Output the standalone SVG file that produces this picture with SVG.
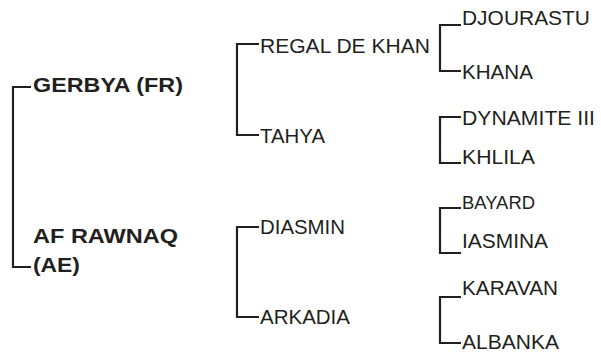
<svg xmlns="http://www.w3.org/2000/svg" width="601" height="353" viewBox="0 0 601 353">
<style>
text{font-family:"Liberation Sans",Arial,sans-serif;fill:#231f20;font-size:21px}
.b{font-weight:bold;font-size:21px}
.s{font-size:17.5px}
.c path{fill:none;stroke:#231f20;stroke-width:2.2}
</style>
<rect width="601" height="353" fill="#fff"/>
<g class="c" id="connectors">
<path d="M31,87H13V267H31"/>
<path d="M259,44H237V135H259"/>
<path d="M259,227H237V317H259"/>
<path d="M461,25H440V71H461"/>
<path d="M461,117H440V163H461"/>
<path d="M461,208H440V253H461"/>
<path d="M461,297H440V343H461"/>
</g>
<g id="gerbya"><text class="b" x="33" y="92" textLength="150" lengthAdjust="spacingAndGlyphs">GERBYA (FR)</text></g>
<g id="afrawnaq"><text class="b" x="33" y="243" textLength="145" lengthAdjust="spacingAndGlyphs">AF RAWNAQ</text><text class="b" x="33" y="272" textLength="47" lengthAdjust="spacingAndGlyphs">(AE)</text></g>
<g id="regal"><text x="260" y="53" textLength="170" lengthAdjust="spacingAndGlyphs">REGAL DE KHAN</text></g>
<g id="tahya"><text x="260" y="143" textLength="65" lengthAdjust="spacingAndGlyphs">TAHYA</text></g>
<g id="diasmin"><text x="260" y="234" textLength="85" lengthAdjust="spacingAndGlyphs">DIASMIN</text></g>
<g id="arkadia"><text x="260" y="324" textLength="90" lengthAdjust="spacingAndGlyphs">ARKADIA</text></g>
<g id="djourastu"><text x="462" y="25" textLength="128" lengthAdjust="spacingAndGlyphs">DJOURASTU</text></g>
<g id="khana"><text x="462" y="78.5" textLength="71" lengthAdjust="spacingAndGlyphs">KHANA</text></g>
<g id="dynamite"><text x="462" y="125" textLength="133" lengthAdjust="spacingAndGlyphs">DYNAMITE III</text></g>
<g id="khlila"><text x="462" y="164" textLength="73" lengthAdjust="spacingAndGlyphs">KHLILA</text></g>
<g id="bayard"><text class="s" x="462" y="209" textLength="73" lengthAdjust="spacingAndGlyphs">BAYARD</text></g>
<g id="iasmina"><text x="462" y="248" textLength="86" lengthAdjust="spacingAndGlyphs">IASMINA</text></g>
<g id="karavan"><text x="462" y="295" textLength="96" lengthAdjust="spacingAndGlyphs">KARAVAN</text></g>
<g id="albanka"><text x="462" y="349" textLength="97" lengthAdjust="spacingAndGlyphs">ALBANKA</text></g>
</svg>
